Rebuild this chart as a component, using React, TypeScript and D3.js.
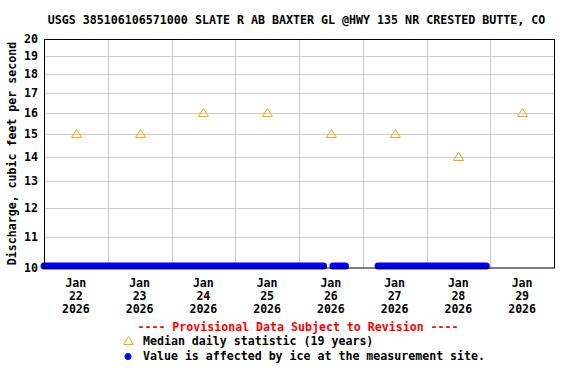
import React from 'react';
import * as d3 from 'd3';

// Median daily statistic (19 years), plotted at noon of each day
const medianDays = ['2026-01-22', '2026-01-23', '2026-01-24', '2026-01-25', '2026-01-26', '2026-01-27', '2026-01-28', '2026-01-29'];
const medianValues = [15, 15, 16, 16, 15, 15, 14, 16];

// Ice-affected stretches of the record (start, end), drawn at the floor of the axis
const iceStarts = ['2026-01-22T00:00', '2026-01-26T12:45', '2026-01-27T05:45'];
const iceEnds = ['2026-01-26T09:15', '2026-01-26T17:30', '2026-01-28T22:30'];
const iceValue = 10.06;

const yTicks = [10, 11, 12, 13, 14, 15, 16, 17, 18, 19, 20];
const dayLabels = ['22', '23', '24', '25', '26', '27', '28', '29'];

const W = 576;
const H = 384;
const FONT = '"DejaVu Sans Mono", "Liberation Mono", monospace';

const parse = (s: string) => new Date(s.length === 10 ? s + 'T00:00' : s);

const App: React.FC = () => {
  const x = d3.scaleTime()
    .domain([parse('2026-01-22'), parse('2026-01-30')])
    .range([44, 554]);

  const y = d3.scaleLog()
    .domain([10, 20])
    .range([268, 39]);

  const crisp = (v: number) => Math.round(v) + 0.5;

  const dayGrid = d3.timeDay.range(parse('2026-01-23'), parse('2026-01-30'));
  const noon = (s: string) => d3.timeHour.offset(parse(s), 12);

  const tri = (cx: number, cy: number) =>
    `M${cx},${cy - 5}L${cx + 5},${cy + 3}L${cx - 5},${cy + 3}Z`;

  return (
    <svg width={W} height={H} style={{ position: 'absolute', left: 0, top: 0, background: '#fff' }}>
      <text x={296.5} y={24} textAnchor="middle" fontFamily={FONT} fontWeight="bold" fontSize={11.65}>
        USGS 385106106571000 SLATE R AB BAXTER GL @HWY 135 NR CRESTED BUTTE, CO
      </text>

      {/* grid */}
      <g stroke="#cccccc" strokeWidth={1}>
        {yTicks.slice(1, -1).map(t => (
          <line key={t} x1={44} x2={554} y1={crisp(y(t))} y2={crisp(y(t))} />
        ))}
        {dayGrid.map((d, i) => (
          <line key={i} x1={crisp(x(d))} x2={crisp(x(d))} y1={39} y2={268} />
        ))}
      </g>

      {/* ice-affected values */}
      <g stroke="#0000ff" strokeWidth={7} strokeLinecap="round">
        {iceStarts.map((s, i) => (
          <line key={i} x1={x(parse(s))} x2={x(parse(iceEnds[i]))} y1={y(iceValue)} y2={y(iceValue)} />
        ))}
      </g>

      {/* medians */}
      <g fill="none" stroke="#ffa500" strokeWidth={1}>
        {medianDays.map((d, i) => (
          <path key={d} d={tri(Math.round(x(noon(d))) + 0.5, Math.round(y(medianValues[i])) + 0.5)} />
        ))}
      </g>

      {/* frame */}
      <rect x={44.5} y={39.5} width={510} height={228.5} fill="none" stroke="#000" strokeWidth={1} />

      {/* y axis labels */}
      <g fontFamily={FONT} fontWeight="bold" fontSize={11.6} textAnchor="end">
        {yTicks.map(t => (
          <text key={t} x={38} y={y(t) + 4}>{t}</text>
        ))}
      </g>
      <text
        transform={`translate(16,${(39 + 268) / 2}) rotate(-90)`}
        textAnchor="middle"
        fontFamily={FONT}
        fontWeight="bold"
        fontSize={11.6}
      >
        Discharge, cubic feet per second
      </text>

      {/* x axis labels */}
      <g fontFamily={FONT} fontWeight="bold" fontSize={11.6} textAnchor="middle">
        {medianDays.map((d, i) => {
          const cx = x(noon(d));
          return (
            <g key={d}>
              <text x={cx} y={287}>Jan</text>
              <text x={cx} y={300}>{dayLabels[i]}</text>
              <text x={cx} y={313}>2026</text>
            </g>
          );
        })}
      </g>

      {/* legend */}
      <text x={298} y={331} textAnchor="middle" fontFamily={FONT} fontWeight="bold" fontSize={11.6} fill="#ff0000">
        ---- Provisional Data Subject to Revision ----
      </text>
      <path d={tri(128.5, 341.5)} fill="none" stroke="#ffa500" strokeWidth={1} />
      <text x={143} y={345} fontFamily={FONT} fontWeight="bold" fontSize={11.6}>
        Median daily statistic (19 years)
      </text>
      <circle cx={128} cy={356.5} r={3.5} fill="#0000ff" />
      <text x={143} y={360} fontFamily={FONT} fontWeight="bold" fontSize={11.6}>
        Value is affected by ice at the measurement site.
      </text>
    </svg>
  );
};

export default App;
